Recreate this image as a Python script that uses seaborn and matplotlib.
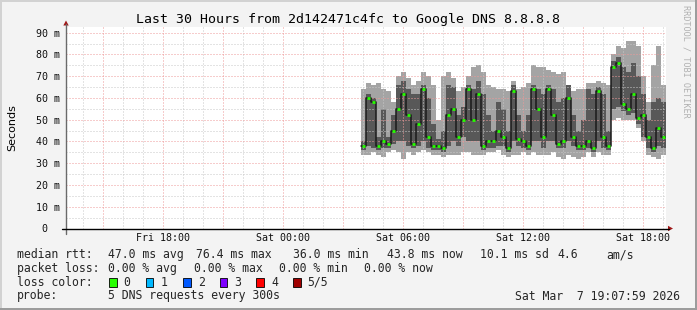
import numpy as np
import pandas as pd
import matplotlib
matplotlib.use("Agg")
import matplotlib.pyplot as plt
import seaborn as sns
from matplotlib.patches import Rectangle, Polygon
from matplotlib.lines import Line2D

sns.set_style("white")
plt.rcParams['font.family'] = ['DejaVu Sans Mono', 'DejaVu Sans']

# ---------------- data (milliseconds) ----------------
title = "Last 30 Hours from 2d142471c4fc to Google DNS 8.8.8.8"
x_tick_hours = [18, 24, 30, 36, 42]
x_tick_labels = ["Fri 18:00", "Sat 00:00", "Sat 06:00", "Sat 12:00", "Sat 18:00"]
y_ticks = [0, 10, 20, 30, 40, 50, 60, 70, 80, 90]
y_tick_labels = ["0\u00a0\u00a0", "10 m", "20 m", "30 m", "40 m", "50 m", "60 m", "70 m", "80 m", "90 m"]

window_start_h = 13 + 8 / 60          # Fri 13:08
window_end_h = window_start_h + 30    # Sat 19:08
first_sample_h = 27.88                # Sat 03:53
sample_step_h = 0.25

median_ms = [38, 60, 58, 38, 40, 39, 45, 55, 62, 52, 39, 48, 64, 42, 38,
             38, 37, 52, 55, 42, 50, 64, 50, 62, 38, 40, 40, 45, 42, 37,
             63, 41, 40, 38, 64, 55, 42, 64, 52, 39, 40, 60, 42, 38, 38,
             40, 37, 63, 42, 38, 74, 76, 57, 55, 62, 51, 52, 42, 37, 46, 42]
inner_lo_ms = [36, 38, 37, 36, 37, 37, 39, 40, 40, 38, 37, 38, 40, 37, 36,
               36, 35, 38, 40, 38, 42, 40, 40, 40, 36, 37, 37, 38, 38, 35,
               40, 38, 37, 36, 40, 40, 37, 40, 40, 37, 37, 40, 38, 36, 36,
               37, 35, 40, 37, 36, 55, 56, 54, 52, 53, 48, 42, 37, 35, 38, 37]
inner_hi_ms = [40, 62, 60, 42, 55, 42, 52, 66, 68, 64, 62, 62, 66, 60, 48,
               41, 45, 66, 65, 52, 56, 66, 64, 68, 62, 52, 45, 58, 55, 45,
               66, 52, 45, 52, 66, 64, 62, 66, 64, 58, 60, 66, 52, 45, 50,
               64, 62, 65, 62, 45, 77, 79, 74, 72, 76, 70, 62, 50, 58, 60, 58]
min_ms = [34, 34, 35, 34, 33, 35, 36, 35, 32, 35, 34, 35, 36, 35, 34,
          34, 33, 34, 34, 34, 35, 35, 34, 34, 34, 35, 35, 36, 34, 33,
          34, 34, 35, 34, 35, 34, 34, 34, 35, 33, 32, 34, 33, 32, 33,
          35, 33, 35, 34, 34, 50, 51, 50, 50, 50, 46, 40, 34, 33, 32, 34]
max_ms = [64, 67, 66, 67, 64, 63, 58, 70, 72, 69, 66, 68, 72, 70, 66,
          50, 70, 72, 69, 63, 65, 70, 74, 75, 72, 66, 65, 64, 64, 63,
          68, 64, 65, 67, 75, 74, 74, 73, 72, 71, 72, 66, 63, 64, 64,
          67, 67, 68, 67, 66, 80, 84, 83, 86, 86, 84, 70, 58, 75, 84, 66]

legend_rtt = [("median rtt:", 16.9), ("47.0 ms avg", 107.6), ("76.4 ms max", 196),
              ("36.0 ms min", 293), ("43.8 ms now", 386.7), ("10.1 ms sd", 480),
              ("4.6", 557.8), ("am/s", 606.7)]
legend_loss = [("packet loss:", 16.9), ("0.00 % avg", 107.6), ("0.00 % max", 194),
               ("0.00 % min", 279), ("0.00 % now", 364.4)]
loss_labels = ["0", "1", "2", "3", "4", "5/5"]
loss_colors = ["#26FF00", "#00B8FF", "#0059FF", "#7E00FF", "#FF0000", "#A00000"]
probe_text = "5 DNS requests every 300s"
stamp_text = "Sat Mar  7 19:07:59 2026"

# ---------------- figure ----------------
W, H = 697, 310
fig = plt.figure(figsize=(W / 100, H / 100), dpi=100, facecolor="#F3F3F3")


def fx(x):
    return x / W


def fy(y):
    return 1 - y / H


ax_left, ax_right, ax_bot, ax_top = 66, 666, 228.5, 27.2
ax = fig.add_axes([fx(ax_left), fy(ax_bot), (ax_right - ax_left) / W, (ax_bot - ax_top) / H])
ax.set_facecolor("white")
ax.set_xlim(window_start_h, window_end_h)
ax.set_ylim(0, 92.5)
for s in ax.spines.values():
    s.set_visible(False)

n = len(median_ms)
times = first_sample_h + sample_step_h * np.arange(n)
mn = np.array(min_ms, float)
mx = np.array(max_ms, float)
lo = np.array(inner_lo_ms, float)
hi = np.array(inner_hi_ms, float)
med = np.array(median_ms, float)

# smoke
ax.bar(times, mx - mn, bottom=mn, width=sample_step_h, align="edge",
       color="#A4A4A4", linewidth=0, zorder=1)
ax.bar(times, hi - lo, bottom=lo, width=sample_step_h, align="edge",
       color="#585858", linewidth=0, zorder=2)

# grid (drawn over the smoke like rrdtool)
dots = (0, (1, 2))
for h in np.arange(14, 44, 1):
    if h % 3:
        ax.axvline(h, color="#C8C8C8", lw=0.72, ls=dots, zorder=3)
for v in np.arange(5, 92, 10):
    ax.axhline(v, color="#C8C8C8", lw=0.72, ls=dots, zorder=3)
for h in np.arange(15, 44, 3):
    ax.axvline(h, color="#EE9A9A", lw=0.72, ls=dots, zorder=3)
for v in np.arange(10, 92, 10):
    ax.axhline(v, color="#EE9A9A", lw=0.72, ls=dots, zorder=3)

# median line
df = pd.DataFrame({"t": np.append(times, times[-1] + sample_step_h),
                   "median": np.append(med, med[-1])})
sns.lineplot(data=df, x="t", y="median", drawstyle="steps-post", color="#1A1A1A",
             lw=1.1, ax=ax, zorder=4)
ax.hlines(med, times + 0.04, times + sample_step_h - 0.04, color=loss_colors[0],
          lw=2.0, zorder=5)

ax.set_xlabel("")
ax.set_ylabel("")
ax.set_xticks(x_tick_hours)
ax.set_xticklabels(x_tick_labels, fontsize=7.2, family="DejaVu Sans Mono")
ax.set_yticks(y_ticks)
ax.set_yticklabels(y_tick_labels, fontsize=7.2, family="DejaVu Sans Mono")
ax.tick_params(axis="x", length=0, pad=3.2, colors="#111111")
ax.tick_params(axis="y", length=0, pad=4.3, colors="#111111")

# axes lines and arrows
fig.add_artist(Line2D([fx(66), fx(66)], [fy(234), fy(24)], color="#6A6A6A", lw=1.0))
fig.add_artist(Line2D([fx(62), fx(669)], [fy(228.5), fy(228.5)], color="black", lw=1.0))
fig.add_artist(Polygon([[fx(63.3), fy(25.5)], [fx(68.7), fy(25.5)], [fx(66), fy(20.5)]],
                       closed=True, transform=fig.transFigure, fc="#A01818", ec="none"))
fig.add_artist(Polygon([[fx(668), fy(225.8)], [fx(668), fy(231.2)], [fx(673), fy(228.5)]],
                       closed=True, transform=fig.transFigure, fc="#A01818", ec="none"))

# frame shading
fig.add_artist(Rectangle((0, fy(1.5)), 1, 1.5 / H, transform=fig.transFigure, fc="#D2D2D2", ec="none"))
fig.add_artist(Rectangle((0, 0), 1.5 / W, 1, transform=fig.transFigure, fc="#D2D2D2", ec="none"))
fig.add_artist(Rectangle((fx(694.5), 0), 2.5 / W, 1, transform=fig.transFigure, fc="#9C9C9C", ec="none"))
fig.add_artist(Rectangle((0, 0), 1, 2.5 / H, transform=fig.transFigure, fc="#9C9C9C", ec="none"))

# texts
fig.text(fx(348), fy(19), title, ha="center", va="center", fontsize=9.5, color="black")
fig.text(fx(12), fy(128), "Seconds", rotation=90, ha="center", va="center",
         fontsize=8, family="DejaVu Sans", color="black")
fig.text(fx(686), fy(5), "RRDTOOL / TOBI OETIKER", rotation=270, ha="center", va="top",
         fontsize=6.1, color="#B0B0B0")

fs = 8.3
for txt, x in legend_rtt:
    fig.text(fx(x), fy(254.5), txt, ha="left", va="center", fontsize=fs)
for txt, x in legend_loss:
    fig.text(fx(x), fy(268.3), txt, ha="left", va="center", fontsize=fs)
fig.text(fx(16.9), fy(282.3), "loss color:", ha="left", va="center", fontsize=fs)
sw_x = [109, 145.8, 183, 219.6, 256.4, 293.3]
lab_x = [123.6, 161, 197.8, 234, 271, 307.6]
for c, lab, sx, lx in zip(loss_colors, loss_labels, sw_x, lab_x):
    fig.add_artist(Rectangle((fx(sx), fy(286.8)), 7.5 / W, 9 / H, transform=fig.transFigure,
                             fc=c, ec="black", lw=0.6))
    fig.text(fx(lx), fy(282.3), lab, ha="left", va="center", fontsize=fs)
fig.text(fx(16.9), fy(296), "probe:", ha="left", va="center", fontsize=fs)
fig.text(fx(107.6), fy(296), probe_text, ha="left", va="center", fontsize=fs)
fig.text(fx(680), fy(296), stamp_text, ha="right", va="center", fontsize=fs)

fig.savefig("out.png", dpi=100, facecolor=fig.get_facecolor())
